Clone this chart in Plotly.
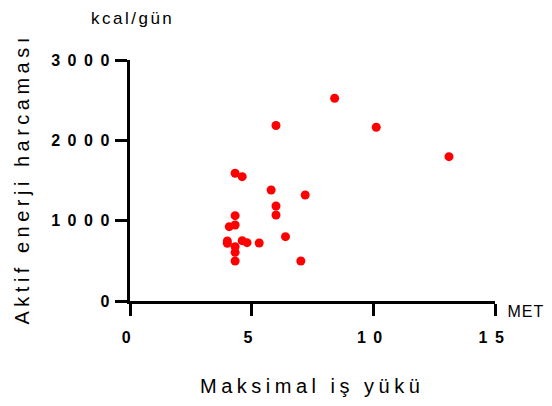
import plotly.graph_objects as go

# Data
max_workload_met = [6.0, 4.32, 4.61, 5.80, 7.20, 6.0, 6.0, 4.32, 4.32, 4.08,
                    6.39, 4.0, 4.0, 4.61, 4.81, 5.31, 4.32, 4.32, 4.32, 7.02,
                    8.41, 10.12, 13.11]
active_energy_kcal = [2185, 1590, 1548, 1382, 1320, 1183, 1071, 1062, 946, 925,
                      801, 747, 718, 751, 726, 722, 676, 606, 498, 498,
                      2524, 2163, 1797]

x_ticks = [0, 5, 10, 15]
x_tick_labels = ["0", "5", "10", "15"]
y_ticks = [0, 1000, 2000, 3000]
y_tick_labels = ["0", "1000", "2000", "3000"]

x_title = "Maksimal iş yükü"
y_title = "Aktif enerji harcaması"
x_unit = "MET"
y_unit = "kcal/gün"

FONT = "Liberation Sans, Arial, sans-serif"

OFF = 8  # page body margin
W, H = 552 - OFF, 406 - OFF
L, R, T = 130 - OFF, 57, 60 - OFF
B = H - (301 - OFF)
PW, PH = W - L - R, H - T - B


def px_x(p):
    return (p - OFF - L) / PW


def px_y(p):
    return (H - B - (p - OFF)) / PH


fig = go.Figure()
fig.add_trace(go.Scatter(
    x=max_workload_met, y=active_energy_kcal, mode="markers",
    marker=dict(color="#ff0000", size=9, line=dict(width=0)),
    showlegend=False, hoverinfo="skip",
))

axis_common = dict(
    showgrid=False, zeroline=False, showline=True, linecolor="black", linewidth=3,
    ticks="outside", ticklen=12, tickwidth=3, tickcolor="black",
    tickfont=dict(family=FONT, size=16, color="black", weight="bold"),
)

fig.update_xaxes(range=[0, 15], tickvals=x_ticks, ticktext=x_tick_labels,
                 ticklabelstandoff=8, **axis_common)
fig.update_yaxes(range=[0, 3000], tickvals=y_ticks, ticktext=y_tick_labels,
                 ticklabelstandoff=-5, **axis_common)

fig.add_annotation(text=y_title, xref="paper", yref="paper", x=px_x(22), y=px_y(179),
                   textangle=-90, showarrow=False, xanchor="center", yanchor="middle",
                   font=dict(family=FONT, size=20, color="black"))
fig.add_annotation(text=x_title, xref="paper", yref="paper", x=px_x(312), y=px_y(386),
                   showarrow=False, xanchor="center", yanchor="middle",
                   font=dict(family=FONT, size=20, color="black"))
fig.add_annotation(text=y_unit, xref="paper", yref="paper", x=px_x(132), y=px_y(OFF),
                   showarrow=False, xanchor="center", yanchor="top", borderpad=0,
                   font=dict(family=FONT, size=17, color="black"))
fig.add_annotation(text=x_unit, xref="paper", yref="paper", x=px_x(508), y=px_y(311),
                   showarrow=False, xanchor="left", yanchor="middle", borderpad=0,
                   font=dict(family=FONT, size=16, color="black"))

fig.update_layout(
    width=W, height=H, autosize=False,
    margin=dict(l=L, r=R, t=T, b=B, pad=0),
    paper_bgcolor="white", plot_bgcolor="white",
    font=dict(family=FONT, color="black"),
)

post = """
var gd = document.getElementById('{plot_id}');
function applySpacing() {
  gd.querySelectorAll('.xtick text, .ytick text').forEach(function(t) {
    t.style.letterSpacing = '7.5px';
  });
  gd.querySelectorAll('.annotation-text').forEach(function(t) {
    var s = t.textContent;
    if (s === 'MET') { t.style.letterSpacing = '1px'; }
    else if (s === 'kcal/gün') { t.style.letterSpacing = '2.5px'; }
    else { t.style.letterSpacing = '4.5px'; }
  });
}
applySpacing();
gd.on('plotly_afterplot', applySpacing);
"""

fig.write_html("out.html", post_script=post)
